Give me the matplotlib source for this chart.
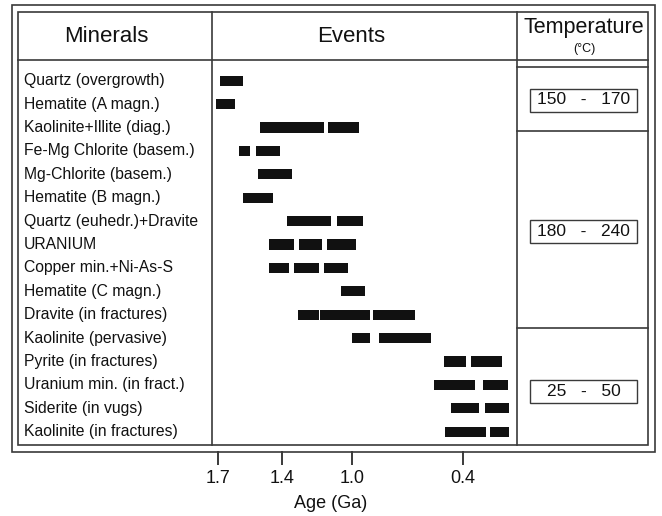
import numpy as np
import matplotlib.pyplot as plt
from matplotlib.patches import Rectangle
from matplotlib.transforms import blended_transform_factory

plt.rcParams["font.family"] = ["Liberation Sans", "DejaVu Sans"]

MINERALS = [
    "Quartz (overgrowth)",
    "Hematite (A magn.)",
    "Kaolinite+Illite (diag.)",
    "Fe-Mg Chlorite (basem.)",
    "Mg-Chlorite (basem.)",
    "Hematite (B magn.)",
    "Quartz (euhedr.)+Dravite",
    "URANIUM",
    "Copper min.+Ni-As-S",
    "Hematite (C magn.)",
    "Dravite (in fractures)",
    "Kaolinite (pervasive)",
    "Pyrite (in fractures)",
    "Uranium min. (in fract.)",
    "Siderite (in vugs)",
    "Kaolinite (in fractures)",
]

# (older, younger) age in Ga for each event segment
EVENTS = [
    [(1.69, 1.58)],
    [(1.71, 1.62)],
    [(1.50, 1.16), (1.135, 0.96)],
    [(1.60, 1.55), (1.52, 1.41)],
    [(1.51, 1.34)],
    [(1.58, 1.44)],
    [(1.37, 1.12), (1.085, 0.94)],
    [(1.46, 1.33), (1.30, 1.17), (1.14, 0.98)],
    [(1.46, 1.36), (1.33, 1.19), (1.16, 1.02)],
    [(1.06, 0.93)],
    [(1.31, 1.19), (1.18, 0.90), (0.886, 0.66)],
    [(1.00, 0.90), (0.855, 0.57)],
    [(0.50, 0.38), (0.353, 0.187)],
    [(0.556, 0.332), (0.292, 0.153)],
    [(0.465, 0.312), (0.278, 0.147)],
    [(0.496, 0.272), (0.252, 0.147)],
]

TICK_AGES = [1.7, 1.4, 1.0, 0.4]
TICK_LABELS = ["1.7", "1.4", "1.0", "0.4"]
TEMP_LABELS = ["150   -   170", "180   -   240", "25   -   50"]

# the age axis of the original is not linear: distance (px) of each tick from the 1.7 tick
AXIS_PX = [0.0, 64.0, 134.3, 245.0]

W, H = 662, 516
LINE = "#3a3a3a"
INK = "#111111"


def _piecewise(x, xp, fp):
    x = np.asarray(x, dtype=float)
    y = np.interp(x, xp, fp)
    s_lo = (fp[1] - fp[0]) / (xp[1] - xp[0])
    s_hi = (fp[-1] - fp[-2]) / (xp[-1] - xp[-2])
    y = np.where(x < xp[0], fp[0] + (x - xp[0]) * s_lo, y)
    y = np.where(x > xp[-1], fp[-1] + (x - xp[-1]) * s_hi, y)
    return y


_ages = np.array(TICK_AGES[::-1])
_pos = -np.array(AXIS_PX[::-1])


def fwd(a):
    return _piecewise(a, _ages, _pos)


def inv(v):
    return _piecewise(v, _pos, _ages)


fig = plt.figure(figsize=(W / 100, H / 100), dpi=100)

# background axes in pixel coordinates for the table frame and texts
bg = fig.add_axes([0, 0, 1, 1])
bg.set_xlim(0, W)
bg.set_ylim(H, 0)
bg.axis("off")

# events panel
ax_l, ax_r, ax_t, ax_b = 212, 517, 60, 451
ax = fig.add_axes([ax_l / W, (H - ax_b) / H, (ax_r - ax_l) / W, (ax_b - ax_t) / H])
ax.patch.set_alpha(0)
ax.set_xscale("function", functions=(fwd, inv))
tick0 = 217.7
ax.set_xlim(float(inv(-(ax_l - tick0))), float(inv(-(ax_r - tick0))))
row_top, row_gap = 80.7, 23.4
ax.set_ylim(15 + (ax_b - 431.7) / row_gap, -(row_top - ax_t) / row_gap)
for s in ax.spines.values():
    s.set_visible(False)
ax.set_yticks([])
ax.set_xticks(TICK_AGES)
ax.set_xticklabels(TICK_LABELS)
ax.tick_params(axis="x", direction="out", length=10, width=1.4, pad=4,
               labelsize=13, color=LINE, labelcolor=INK)

for i, spans in enumerate(EVENTS):
    ax.broken_barh([(young, old - young) for old, young in spans], (i - 0.22, 0.44),
                   facecolors=INK, edgecolors="none")

# frame
lw = 1.2
bg.add_patch(Rectangle((12, 5), 643, 447, fill=False, lw=lw, ec=LINE))
bg.add_patch(Rectangle((18, 12), 630, 433, fill=False, lw=lw, ec=LINE))
bg.plot([18, 648], [60, 60], color=LINE, lw=lw)
bg.plot([212, 212], [12, 445], color=LINE, lw=lw)
bg.plot([517, 517], [12, 445], color=LINE, lw=lw)
for y in [67, 131, 328]:
    bg.plot([517, 648], [y, y], color=LINE, lw=lw)

# headers
bg.text(106, 36, "Minerals", ha="center", va="center", fontsize=16, color=INK)
bg.text(351, 36, "Events", ha="center", va="center", fontsize=16, color=INK)
bg.text(584, 28, "Temperature", ha="center", va="center", fontsize=15.5, color=INK)
bg.text(584, 49, "(°C)", ha="center", va="center", fontsize=9, color=INK)

# mineral names aligned with the event rows
trans = blended_transform_factory(bg.transData, ax.transData)
for i, name in enumerate(MINERALS):
    bg.text(24, i, name, transform=trans, ha="left", va="center",
            fontsize=11.3, color=INK)

# temperature boxes
for label, yc in zip(TEMP_LABELS, [100, 231, 391]):
    bg.add_patch(Rectangle((530, yc - 11.5), 107, 23, fill=False, lw=1.0, ec=LINE))
    bg.text(583.5, yc, label, ha="center", va="center", fontsize=12.5, color=INK)

bg.text(331, 503, "Age (Ga)", ha="center", va="center", fontsize=13, color=INK)

fig.savefig("out.png", dpi=100)
